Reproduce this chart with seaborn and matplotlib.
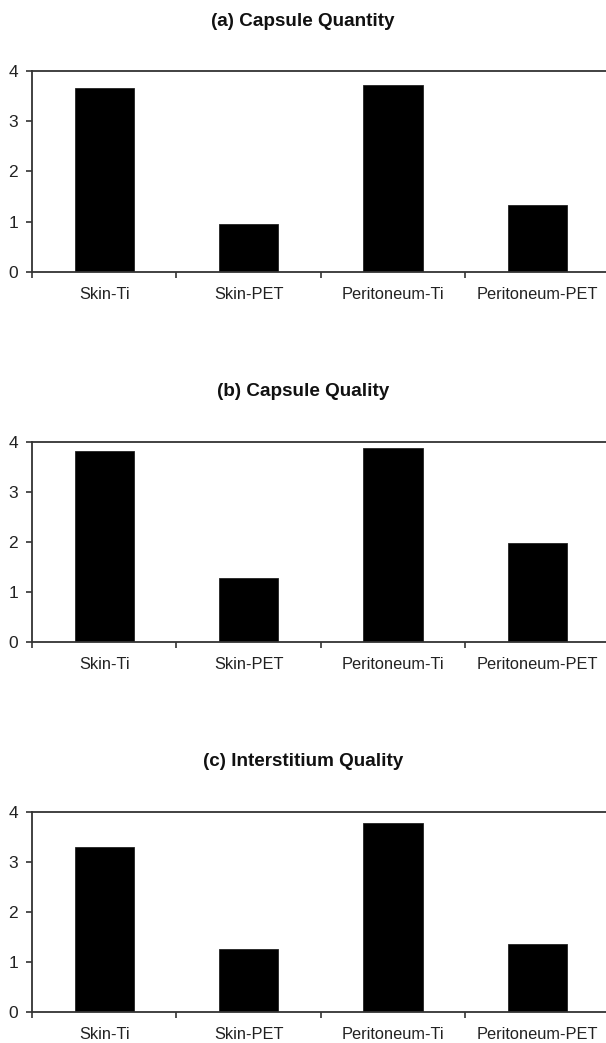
import matplotlib
matplotlib.use("Agg")
import matplotlib.pyplot as plt
import seaborn as sns
import pandas as pd

# --- Data ---
categories = ["Skin-Ti", "Skin-PET", "Peritoneum-Ti", "Peritoneum-PET"]
capsule_quantity = [3.67, 0.95, 3.73, 1.34]
capsule_quality = [3.83, 1.29, 3.89, 1.99]
interstitium_quality = [3.31, 1.27, 3.79, 1.36]
titles = ["(a) Capsule Quantity", "(b) Capsule Quality", "(c) Interstitium Quality"]
y_ticks = [0, 1, 2, 3, 4]

sns.set_style("white")
plt.rcParams["font.family"] = ["Liberation Sans", "DejaVu Sans"]

W, H = 606, 1043
fig = plt.figure(figsize=(W / 100, H / 100), dpi=100)

# panel geometry in pixels: (axes top, axes bottom, title centre)
panels = [(71, 272, 22), (442, 642, 391), (812, 1012, 761)]
left_px, right_px = 32, 609.6

series = [capsule_quantity, capsule_quality, interstitium_quality]

for (top, bottom, title_y), values, title in zip(panels, series, titles):
    ax = fig.add_axes([left_px / W, 1 - bottom / H,
                       (right_px - left_px) / W, (bottom - top) / H])
    df = pd.DataFrame({"group": categories, "score": values})
    sns.barplot(data=df, x="group", y="score", color="black", width=0.41,
                edgecolor="#222222", linewidth=0.6, saturation=1, ax=ax)
    ax.set_xlim(-0.5, 3.5)
    ax.set_ylim(0, 4)
    ax.set_yticks(y_ticks)
    ax.set_xticks(range(len(categories)))
    ax.set_xticklabels(categories, fontsize=11.8, color="#222222")
    ax.set_xticks([i - 0.5 for i in range(len(categories) + 1)], minor=True)
    ax.tick_params(axis="x", which="major", length=0, pad=11)
    ax.tick_params(axis="x", which="minor", length=4, width=1.2,
                   direction="out", color="#333333", bottom=True)
    ax.tick_params(axis="y", length=4, width=1.2, direction="out",
                   color="#333333", labelsize=12.5, labelcolor="#222222",
                   pad=6, left=True)
    ax.set_xlabel("")
    ax.set_ylabel("")
    for side in ["left", "bottom", "top"]:
        ax.spines[side].set_visible(True)
        ax.spines[side].set_color("#333333")
        ax.spines[side].set_linewidth(1.3)
    ax.spines["right"].set_visible(False)
    fig.text(0.5, 1 - title_y / H, title, ha="center", va="center",
             fontsize=13.6, fontweight="bold", color="#111111")

fig.savefig("out.png", dpi=100)
